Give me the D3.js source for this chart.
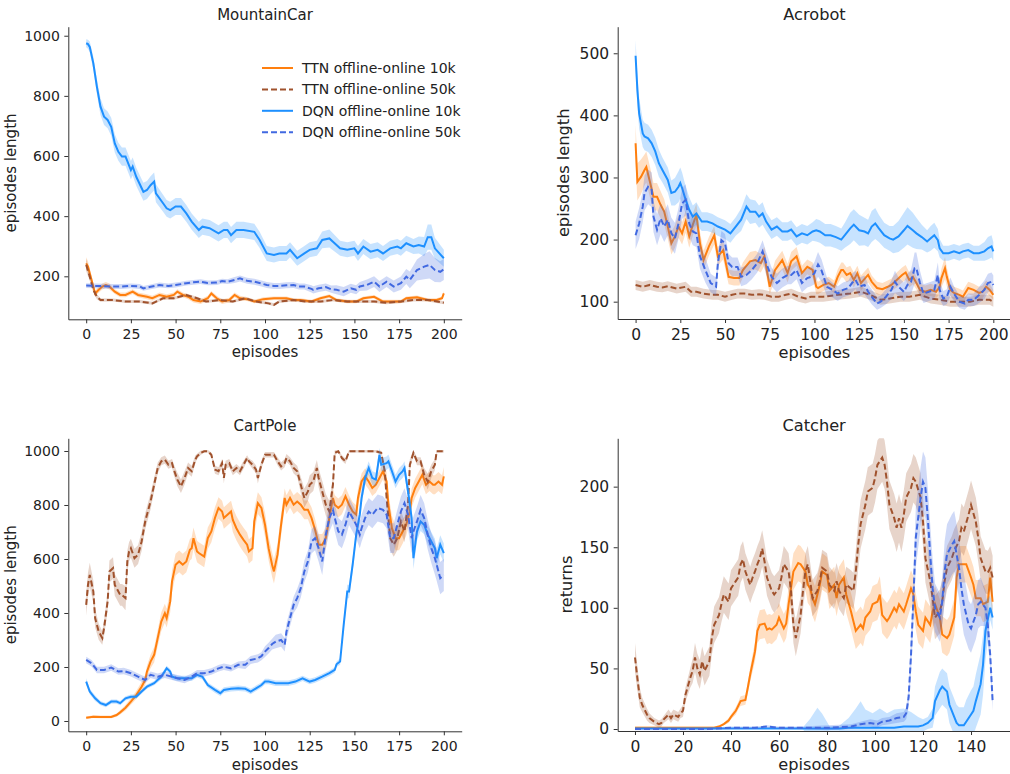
<!DOCTYPE html>
<html>
<head>
<meta charset="utf-8">
<script src="https://cdnjs.cloudflare.com/ajax/libs/d3/7.8.5/d3.min.js"></script>
<style>
  body { margin: 0; background: #fff; }
  text { font-family: "DejaVu Sans", sans-serif; fill: #222; }
</style>
</head>
<body>
<script>
// every row is [episode, mean, half width of the shaded band]

// MountainCar
var mcTtn10 = [[0,243,20],[1,232,18],[2,210,15],[4,166,10],[5,143,10],[7,155,10],[9,166,10],[11,171,10],[13,166,10],[16,149,8],[19,138,8],[22,138,8],[26,149,8],[29,138,8],[34,132,8],[37,127,8],[41,138,8],[45,132,8],[49,138,8],[51,149,8],[54,138,8],[57,132,8],[60,121,8],[64,116,8],[68,127,8],[70,143,8],[73,127,8],[76,116,8],[80,121,8],[83,138,8],[86,127,8],[90,124,6],[94,116,6],[99,124,6],[105,127,6],[112,127,6],[116,121,6],[120,121,6],[126,116,6],[131,127,6],[136,134,6],[140,121,6],[146,116,6],[151,116,6],[155,127,6],[161,132,6],[166,116,6],[172,116,6],[176,116,6],[179,127,6],[185,130,6],[191,121,6],[196,121,6],[199,127,6],[200,143,8]];
var mcTtn50 = [[0,238,20],[2,199,15],[4,155,10],[6,132,8],[8,121,6],[15,121,5],[22,116,5],[30,116,5],[37,110,5],[43,127,5],[49,127,5],[56,138,5],[62,127,5],[67,116,5],[75,121,5],[82,116,5],[89,127,5],[95,116,5],[102,110,5],[105,105,5],[108,116,5],[116,121,5],[123,116,5],[131,116,5],[138,121,5],[146,116,5],[153,116,5],[161,116,5],[168,112,5],[176,116,5],[183,121,5],[191,121,5],[200,112,5]];
var mcDqn10 = [[0,975,13],[1,972,15],[2,963,18],[4,908,22],[6,830,25],[8,764,28],[10,731,28],[12,720,28],[14,697,30],[16,642,30],[18,614,30],[20,598,30],[22,598,30],[25,553,30],[26,565,30],[28,531,30],[32,481,30],[34,487,30],[36,503,30],[38,515,30],[39,476,30],[43,443,28],[45,426,28],[47,420,28],[50,432,28],[53,432,28],[56,409,28],[59,382,27],[63,354,27],[65,365,27],[69,360,27],[74,343,27],[77,354,27],[79,354,27],[81,337,27],[84,354,27],[88,354,27],[94,348,27],[97,321,27],[101,276,25],[105,271,25],[108,276,25],[112,276,25],[114,288,25],[118,260,25],[122,276,25],[125,288,25],[129,293,25],[132,321,28],[136,326,30],[138,315,28],[142,293,25],[146,288,25],[150,293,25],[152,276,25],[155,299,25],[159,282,25],[163,288,25],[166,276,25],[170,293,25],[174,299,25],[176,293,25],[179,310,25],[183,299,25],[186,304,28],[189,299,32],[191,330,42],[193,330,42],[195,293,35],[200,260,28]];
var mcDqn50 = [[0,169,8],[5,168,8],[10,167,8],[15,166,8],[20,166,8],[25,168,8],[30,166,8],[32,160,8],[36,165,8],[41,171,8],[46,168,8],[50,171,8],[53,174,8],[56,177,8],[60,180,8],[64,182,8],[68,178,8],[73,179,8],[76,184,8],[79,182,8],[83,188,10],[86,193,10],[90,185,10],[94,182,10],[98,176,10],[101,171,10],[105,168,10],[108,168,10],[112,170,10],[116,171,10],[119,166,10],[122,166,10],[126,158,12],[127,155,12],[130,160,12],[134,164,12],[137,157,12],[140,155,15],[144,149,15],[148,160,15],[151,155,15],[153,166,15],[157,171,18],[161,182,18],[164,166,18],[168,182,18],[172,166,20],[176,177,22],[179,199,25],[181,188,28],[185,221,35],[189,232,42],[192,238,45],[195,221,40],[198,215,35],[200,223,35]];

// Acrobot
var acTtn10 = [[0,355,30],[1,293,30],[3,301,28],[5,312,25],[6,317,25],[8,293,25],[10,269,22],[12,269,22],[14,256,22],[16,245,20],[18,221,20],[20,194,18],[22,205,18],[24,221,18],[26,210,18],[28,229,18],[30,205,18],[32,224,18],[34,240,18],[36,194,18],[38,167,15],[41,189,15],[44,207,15],[46,173,15],[49,183,15],[52,140,12],[55,138,12],[58,138,12],[60,151,12],[64,165,15],[67,167,15],[70,162,15],[72,173,15],[75,124,12],[78,151,15],[82,167,15],[85,146,15],[87,165,15],[90,173,15],[93,146,12],[96,156,12],[99,151,12],[101,124,12],[102,122,10],[105,127,10],[108,130,10],[111,124,10],[113,140,12],[115,151,12],[116,151,12],[118,143,12],[120,146,12],[122,135,12],[124,146,12],[126,130,12],[129,140,12],[130,143,12],[132,132,10],[135,122,10],[138,120,10],[141,124,10],[143,127,10],[146,135,12],[149,143,12],[151,147,12],[153,135,12],[155,140,12],[157,130,10],[159,119,10],[162,116,10],[165,119,10],[168,116,10],[170,124,12],[171,138,15],[173,154,18],[174,140,15],[176,119,10],[178,114,10],[181,111,10],[183,108,10],[186,122,10],[189,119,10],[192,114,10],[194,116,10],[196,124,10],[198,119,10],[200,111,8]];
var acTtn50 = [[0,127,8],[4,124,8],[8,127,8],[12,124,8],[15,123,8],[18,125,8],[23,121,8],[28,124,8],[31,116,8],[34,116,8],[38,113,8],[43,111,8],[46,111,8],[50,108,8],[54,111,8],[57,113,8],[61,113,8],[65,111,8],[69,112,8],[72,111,8],[76,108,8],[80,108,8],[84,111,8],[87,113,8],[91,108,8],[95,105,8],[98,108,8],[105,108,8],[113,111,8],[120,113,8],[126,116,8],[131,111,8],[137,103,8],[142,105,8],[148,108,8],[153,108,8],[159,111,8],[165,105,8],[170,103,8],[176,100,8],[181,100,8],[187,100,8],[192,103,8],[198,103,8],[200,100,8]];
var acDqn10 = [[0,496,25],[1,441,25],[2,403,25],[4,371,22],[5,366,22],[7,363,22],[9,355,22],[11,342,22],[13,323,22],[15,312,20],[18,296,20],[20,275,20],[22,277,22],[24,285,25],[25,291,25],[26,283,25],[28,264,22],[30,248,20],[32,237,18],[34,242,18],[37,229,15],[40,229,15],[43,226,15],[46,221,15],[50,216,15],[53,210,15],[56,221,15],[59,232,18],[62,253,20],[64,245,20],[67,245,18],[69,237,18],[71,242,18],[73,229,15],[76,216,15],[79,221,15],[82,213,15],[85,213,15],[87,216,15],[90,205,15],[93,210,15],[96,207,15],[99,213,15],[101,215,18],[103,213,18],[106,207,18],[109,207,18],[112,204,18],[115,200,18],[117,207,20],[120,218,25],[122,224,25],[125,215,25],[128,213,22],[130,210,22],[132,221,25],[134,226,25],[136,218,22],[139,207,20],[142,202,20],[144,200,22],[147,205,25],[150,215,28],[152,222,30],[155,215,28],[157,210,25],[160,204,20],[163,197,18],[165,202,20],[167,207,20],[169,199,18],[170,186,15],[172,178,12],[175,178,12],[178,181,12],[181,178,12],[183,181,12],[186,183,12],[189,178,12],[192,178,12],[195,181,15],[197,186,18],[199,189,18],[200,181,15]];
var acDqn50 = [[0,207,22],[2,226,25],[4,253,25],[5,275,28],[7,285,28],[9,280,28],[10,237,25],[12,216,25],[14,234,25],[16,221,25],[18,232,25],[20,210,25],[22,202,25],[24,226,25],[26,258,25],[28,264,25],[30,226,22],[32,213,22],[34,210,22],[36,173,20],[39,151,20],[42,130,15],[45,124,15],[46,162,15],[48,199,15],[50,194,15],[52,162,15],[54,156,15],[57,156,15],[59,140,15],[62,143,15],[65,151,15],[68,162,15],[71,181,18],[73,162,18],[76,140,15],[79,130,15],[82,138,15],[85,143,15],[87,143,15],[90,151,15],[93,130,15],[96,138,15],[98,140,15],[100,146,18],[102,160,20],[104,150,18],[107,124,15],[110,119,12],[113,113,12],[116,119,12],[119,122,12],[121,130,15],[123,135,15],[125,124,15],[128,127,15],[130,116,12],[132,108,12],[135,97,10],[137,100,10],[140,108,12],[143,119,15],[145,132,18],[147,124,15],[150,116,15],[152,127,18],[154,132,20],[156,154,25],[157,154,25],[159,130,20],[161,113,15],[164,116,15],[167,119,15],[169,143,20],[170,119,15],[172,105,12],[174,108,12],[176,124,15],[178,113,12],[181,100,10],[184,97,10],[186,103,10],[189,103,10],[191,108,12],[195,119,15],[197,130,15],[199,132,15],[200,127,15]];

// CartPole
var cpTtn10 = [[0,12,5],[4,16,5],[8,15,5],[14,15,5],[17,22,6],[19,32,8],[22,49,10],[25,72,12],[28,96,15],[31,127,18],[33,152,20],[34,183,22],[36,220,25],[38,245,28],[40,307,30],[42,368,35],[44,399,35],[45,381,35],[47,443,40],[48,517,40],[50,579,40],[52,591,40],[54,579,40],[56,591,40],[58,634,40],[59,640,40],[60,677,40],[62,628,40],[63,622,40],[66,609,40],[68,677,40],[70,702,40],[72,752,40],[74,789,40],[76,776,40],[77,752,40],[79,764,40],[81,776,40],[82,745,45],[84,714,45],[86,690,45],[88,671,45],[90,653,45],[91,628,45],[93,640,45],[94,739,45],[96,807,40],[98,789,40],[100,727,45],[102,640,45],[104,578,45],[105,554,45],[107,616,40],[109,727,40],[111,826,35],[112,801,35],[114,826,35],[116,801,35],[118,813,35],[120,801,35],[122,782,35],[124,782,35],[126,752,40],[128,708,40],[130,653,40],[132,653,40],[134,677,40],[136,752,40],[138,826,35],[139,801,35],[141,789,35],[143,801,35],[145,832,35],[147,801,35],[149,776,35],[151,764,35],[152,826,35],[154,887,30],[156,906,30],[158,887,30],[160,863,30],[162,875,30],[164,900,30],[166,925,30],[168,887,35],[169,801,40],[171,714,45],[173,677,45],[175,677,45],[177,702,45],[179,727,40],[181,776,40],[182,826,35],[184,863,35],[186,887,35],[188,912,35],[190,875,35],[192,887,35],[194,875,35],[195,875,35],[197,887,35],[199,875,35],[200,906,35]];
var cpTtn50 = [[0,430,40],[1,504,45],[2,541,45],[4,480,40],[5,381,35],[7,331,30],[9,307,25],[10,344,30],[12,443,35],[13,554,40],[15,566,40],[16,504,40],[17,492,40],[19,467,40],[20,467,40],[22,455,45],[23,591,40],[24,628,35],[25,640,35],[27,603,35],[29,616,35],[31,665,35],[33,739,30],[34,764,30],[36,813,30],[38,875,25],[40,937,20],[42,962,15],[44,968,15],[46,949,15],[48,955,15],[49,931,20],[51,894,25],[53,869,25],[55,900,25],[57,937,20],[59,925,20],[61,968,15],[62,980,10],[64,993,8],[66,999,5],[68,999,5],[70,986,8],[72,931,15],[74,925,15],[76,955,15],[77,900,20],[78,949,15],[80,955,15],[82,925,15],[84,937,15],[86,925,15],[88,949,15],[90,974,10],[91,962,10],[93,949,15],[95,931,15],[96,900,20],[98,949,15],[100,986,10],[102,986,10],[105,986,10],[107,962,15],[109,943,15],[111,955,15],[112,974,15],[114,962,15],[116,937,20],[118,925,20],[120,875,30],[122,826,35],[124,850,35],[125,875,35],[127,887,35],[129,937,30],[130,900,35],[132,850,40],[134,801,40],[136,776,40],[138,875,30],[139,993,10],[141,999,5],[143,974,10],[145,962,10],[147,999,5],[151,999,5],[154,999,5],[158,999,5],[162,999,5],[165,993,8],[167,925,20],[168,826,35],[170,677,45],[172,653,45],[174,677,45],[176,739,40],[178,702,40],[180,801,35],[181,949,20],[183,993,10],[185,962,15],[187,962,15],[189,912,25],[191,887,30],[193,925,25],[195,949,20],[196,999,5],[198,999,5],[200,999,5]];
var cpDqn10 = [[0,146,12],[2,109,10],[5,84,10],[8,66,8],[11,59,8],[14,72,8],[17,72,8],[19,66,8],[22,84,8],[25,90,8],[28,90,8],[31,109,8],[34,127,8],[38,140,8],[42,164,10],[45,195,10],[47,183,10],[48,164,10],[51,158,10],[55,158,10],[59,158,10],[62,171,10],[65,164,10],[68,133,10],[72,115,10],[75,103,10],[77,115,10],[81,119,10],[85,121,10],[89,119,10],[92,109,10],[95,121,10],[98,133,10],[100,146,10],[102,146,10],[106,140,10],[110,140,10],[113,140,10],[117,146,10],[121,158,10],[125,146,10],[128,152,10],[132,164,10],[136,177,10],[139,189,10],[140,210,10],[142,220,12],[144,356,20],[146,480,25],[147,480,25],[149,578,25],[151,690,25],[153,764,25],[154,826,25],[156,900,25],[158,937,25],[160,900,25],[162,894,25],[164,986,25],[165,949,25],[168,955,25],[169,962,25],[171,925,25],[173,887,25],[175,912,25],[177,925,25],[178,937,25],[180,850,30],[182,752,35],[183,603,40],[185,702,35],[187,739,35],[189,727,35],[191,690,35],[193,665,35],[195,640,35],[196,603,35],[198,653,35],[200,622,35]];
var cpDqn50 = [[0,226,12],[3,214,12],[6,189,12],[10,189,12],[14,198,12],[18,183,12],[21,185,12],[25,177,12],[29,164,12],[33,152,12],[36,171,12],[40,164,12],[44,171,12],[48,164,12],[51,158,12],[55,152,12],[59,164,12],[62,177,12],[66,177,12],[70,183,12],[74,195,12],[77,201,12],[81,195,12],[85,208,12],[89,208,15],[92,226,15],[96,232,15],[98,240,15],[100,257,20],[102,270,20],[104,285,20],[106,294,25],[109,300,25],[111,282,25],[112,331,30],[114,381,30],[116,430,30],[118,455,35],[120,492,35],[122,554,40],[124,591,40],[126,665,45],[128,677,45],[130,640,50],[132,591,50],[134,690,50],[136,752,50],[138,782,50],[139,752,50],[141,702,50],[143,690,50],[145,727,50],[147,776,50],[149,752,50],[151,727,50],[153,690,50],[154,714,50],[156,752,50],[158,776,50],[160,764,50],[163,789,50],[166,782,50],[168,764,50],[170,677,55],[172,677,55],[174,727,55],[176,776,55],[178,807,55],[180,764,55],[182,677,55],[183,702,55],[185,739,55],[187,782,55],[189,752,55],[191,690,55],[193,640,55],[195,603,60],[196,579,60],[198,529,60],[200,541,60]];

// Catcher
var caTtn10 = [[0,1,1],[10,1,1],[20,1,1],[30,1,1],[33,1,1],[35,2,1],[36,3,1],[37,4,1],[39,7,2],[40,10,2],[42,15,3],[43,19,3],[44,23,4],[46,24,4],[47,34,5],[48,45,6],[50,64,8],[51,81,10],[52,86,12],[54,87,12],[55,82,12],[56,83,12],[57,82,12],[59,86,12],[60,92,12],[62,83,12],[63,87,12],[64,103,15],[65,116,15],[66,130,15],[68,137,15],[69,136,15],[71,130,15],[72,119,15],[73,116,15],[74,108,15],[75,103,15],[76,111,15],[77,119,15],[78,130,15],[80,127,15],[81,114,15],[83,119,15],[84,108,15],[85,119,15],[87,125,15],[88,111,15],[90,97,15],[91,89,15],[92,81,15],[94,86,15],[95,83,15],[96,92,15],[98,97,15],[99,103,15],[101,105,15],[102,111,15],[103,94,15],[105,89,15],[106,92,15],[108,100,15],[109,97,15],[110,103,15],[112,97,15],[113,103,15],[115,116,15],[116,111,15],[117,97,15],[118,86,15],[120,81,15],[121,92,15],[123,86,15],[124,97,15],[125,103,15],[127,92,15],[128,78,15],[130,75,15],[131,78,15],[133,92,15],[134,125,15],[135,136,15],[137,136,15],[138,136,15],[140,125,15],[141,119,15],[142,108,15],[144,108,15],[145,103,15],[147,105,15],[148,125,15],[149,105,15]];
var caTtn50 = [[0,59,12],[1,42,10],[2,26,8],[3,20,6],[5,12,5],[6,9,4],[8,6,3],[10,4,3],[11,5,3],[12,8,3],[14,12,4],[15,9,4],[16,12,4],[18,10,4],[19,13,4],[20,15,5],[21,28,6],[23,42,8],[24,48,10],[25,59,12],[26,50,12],[27,45,12],[28,56,12],[29,48,12],[31,56,12],[32,75,14],[33,86,15],[35,94,15],[36,103,15],[37,111,15],[39,105,15],[40,116,15],[42,122,15],[43,125,15],[44,136,15],[45,140,15],[46,130,15],[48,119,15],[49,125,15],[50,130,15],[51,136,15],[52,141,15],[53,149,15],[54,138,15],[55,125,15],[57,114,15],[58,111,15],[60,116,15],[61,125,15],[62,136,15],[64,130,15],[65,114,15],[66,86,15],[67,75,15],[69,94,15],[70,114,15],[71,130,15],[72,136,15],[74,108,15],[76,114,15],[77,122,15],[78,133,15],[80,130,15],[81,119,15],[83,114,15],[84,122,15],[85,114,15],[87,108,15],[88,119,15],[90,116,15],[91,114,15],[92,130,18],[93,152,20],[94,169,20],[96,185,20],[97,196,20],[99,199,20],[100,207,20],[101,218,20],[103,224,20],[104,218,20],[105,204,20],[106,185,20],[108,174,20],[109,166,20],[110,174,20],[111,166,20],[112,177,20],[113,191,20],[115,199,20],[116,207,20],[117,204,20],[119,191,20],[120,171,20],[121,141,20],[123,122,20],[124,108,20],[125,92,18],[127,97,18],[128,105,18],[129,122,18],[130,133,18],[132,141,18],[133,147,18],[135,155,18],[136,166,20],[137,163,20],[139,177,20],[140,185,20],[142,171,20],[143,158,20],[144,141,18],[146,130,18],[147,129,18],[148,133,18],[149,125,18]];
var caDqn10 = [[0,0.5,0.5],[20,0.5,0.5],[40,0.5,0.5],[60,0.5,0.5],[70,0.5,1],[73,0.5,8],[76,0.5,17],[78,0.5,12],[81,0.5,2],[85,0.5,2],[89,1,8],[92,1,16],[94,1,22],[96,1,15],[99,1,12],[102,1,16],[105,1,12],[108,1,15],[112,2,15],[115,2,12],[118,2,8],[120,3,5],[122,5,5],[124,9,8],[125,23,12],[127,32,15],[128,35,15],[130,31,15],[131,20,15],[133,10,15],[134,5,15],[135,3,15],[137,3,15],[138,6,18],[140,12,20],[141,15,20],[142,23,22],[144,37,25],[145,53,25],[146,81,25],[148,100,10],[149,92,10]];
var caDqn50 = [[0,0,1],[10,0,1],[20,0,1],[30,0,1],[40,1,1],[50,1,1],[55,2,1],[60,1,1],[70,1,1],[80,1,2],[90,2,2],[94,4,2],[98,5,3],[101,4,3],[103,6,3],[106,7,3],[109,9,4],[112,10,4],[113,13,5],[114,26,8],[115,61,15],[116,108,20],[117,158,25],[119,191,25],[120,204,25],[121,199,25],[122,174,25],[123,144,25],[124,116,25],[125,100,20],[127,92,20],[128,105,20],[129,130,25],[130,144,25],[132,152,25],[133,155,25],[135,133,25],[136,116,25],[137,103,25],[139,86,20],[140,83,20],[142,94,20],[143,103,20],[144,105,20],[146,100,15],[147,86,15],[148,61,10],[149,23,8]];

// tick labels
var epTicks200 = [0, 25, 50, 75, 100, 125, 150, 175, 200];
var epTicks150 = [0, 20, 40, 60, 80, 100, 120, 140];
var mcYTicks = [200, 400, 600, 800, 1000];
var acYTicks = [100, 200, 300, 400, 500];
var cpYTicks = [0, 200, 400, 600, 800, 1000];
var caYTicks = [0, 50, 100, 150, 200];

var names = ["TTN offline-online 10k", "TTN offline-online 50k",
             "DQN offline-online 10k", "DQN offline-online 50k"];
var colors = ["#ff7f0e", "#a0522d", "#1e90ff", "#4169e1"];
var dashes = [null, "6,3", null, "6,3"];

var svg = d3.select("body").append("svg")
    .attr("width", 1010)
    .attr("height", 774);

// layout of the four subplots
var panels = [
  {title: "MountainCar", ylabel: "episodes length", x0: 68.3, x1: 461.7, y0: 26.7, y1: 319.3,
   xDom: [-10, 210], yDom: [57, 1030], xTicks: epTicks200, yTicks: mcYTicks,
   data: [mcTtn10, mcTtn50, mcDqn10, mcDqn50], fs: 14, ls: 15, yl: 16, xl: 357, tl: 19.5},
  {title: "Acrobot", ylabel: "episodes length", x0: 617.7, x1: 1011.2, y0: 26.7, y1: 319,
   xDom: [-10, 210], yDom: [72.1, 542.8], xTicks: epTicks200, yTicks: acYTicks,
   data: [acTtn10, acTtn50, acDqn10, acDqn50], fs: 15.5, ls: 16.2, yl: 569, xl: 357.5, tl: 19.5},
  {title: "CartPole", ylabel: "episodes length", x0: 68.3, x1: 461.7, y0: 438.3, y1: 731.3,
   xDom: [-10, 210], yDom: [-38.2, 1047], xTicks: epTicks200, yTicks: cpYTicks,
   data: [cpTtn10, cpTtn50, cpDqn10, cpDqn50], fs: 14, ls: 15, yl: 16, xl: 770, tl: 431},
  {title: "Catcher", ylabel: "returns", x0: 617.7, x1: 1010.5, y0: 438.3, y1: 731,
   xDom: [-7.2, 156.45], yDom: [-1.65, 239.9], xTicks: epTicks150, yTicks: caYTicks,
   data: [caTtn10, caTtn50, caDqn10, caDqn50], fs: 15.5, ls: 16.2, yl: 571.5, xl: 770, tl: 431}
];

panels.forEach(function(p, pi) {
  var scaleX = d3.scaleLinear().domain(p.xDom).range([p.x0, p.x1]);
  var scaleY = d3.scaleLinear().domain(p.yDom).range([p.y1, p.y0]);

  var clipId = "clip" + pi;
  svg.append("clipPath").attr("id", clipId)
    .append("rect")
    .attr("x", p.x0).attr("y", p.y0)
    .attr("width", p.x1 - p.x0).attr("height", p.y1 - p.y0);

  var g = svg.append("g").attr("clip-path", "url(#" + clipId + ")");

  var area = d3.area()
      .x(function(d) { return scaleX(d[0]); })
      .y0(function(d) { return scaleY(d[1] - d[2]); })
      .y1(function(d) { return scaleY(d[1] + d[2]); });
  var line = d3.line()
      .x(function(d) { return scaleX(d[0]); })
      .y(function(d) { return scaleY(d[1]); });

  // shaded band then mean line, one series after the other
  p.data.forEach(function(s, i) {
    g.append("path")
      .attr("d", area(s))
      .attr("fill", colors[i])
      .attr("fill-opacity", 0.25)
      .attr("stroke", "none");
    g.append("path")
      .attr("d", line(s))
      .attr("fill", "none")
      .attr("stroke", colors[i])
      .attr("stroke-width", 2)
      .attr("stroke-dasharray", dashes[i]);
  });

  // axes, only left and bottom spines
  var xAxis = svg.append("g")
      .attr("transform", "translate(0," + p.y1 + ")")
      .call(d3.axisBottom(scaleX).tickValues(p.xTicks).tickSize(4)
            .tickFormat(d3.format("d"))
            .tickSizeOuter(0).tickPadding(p.fs > 14 ? 5.5 : 6));
  var yAxis = svg.append("g")
      .attr("transform", "translate(" + p.x0 + ",0)")
      .call(d3.axisLeft(scaleY).tickValues(p.yTicks).tickSize(4)
            .tickFormat(d3.format("d"))
            .tickSizeOuter(0).tickPadding(4.5));
  [xAxis, yAxis].forEach(function(a) {
    a.selectAll("path, line").attr("stroke", "#333").attr("stroke-width", 1);
    a.selectAll("text")
      .attr("fill", "#222")
      .style("font-size", p.fs + "px")
      .style("font-family", "DejaVu Sans");
  });

  var cx = (p.x0 + p.x1) / 2;
  svg.append("text")
    .attr("x", cx).attr("y", p.tl)
    .attr("text-anchor", "middle")
    .style("font-size", p.ls + "px")
    .text(p.title);

  svg.append("text")
    .attr("x", cx).attr("y", p.xl)
    .attr("text-anchor", "middle")
    .style("font-size", p.ls + "px")
    .text("episodes");

  svg.append("text")
    .attr("transform", "translate(" + p.yl + "," + ((p.y0 + p.y1) / 2) + ") rotate(-90)")
    .attr("text-anchor", "middle")
    .style("font-size", p.ls + "px")
    .text(p.ylabel);
});

// legend inside the MountainCar panel
var legend = svg.append("g");
names.forEach(function(name, i) {
  var ly = 68 + i * 21.4;
  legend.append("line")
    .attr("x1", 262).attr("x2", 293)
    .attr("y1", ly).attr("y2", ly)
    .attr("stroke", colors[i])
    .attr("stroke-width", 2)
    .attr("stroke-dasharray", dashes[i]);
  legend.append("text")
    .attr("x", 302).attr("y", ly + 5)
    .style("font-size", "14px")
    .text(name);
});
</script>
</body>
</html>
